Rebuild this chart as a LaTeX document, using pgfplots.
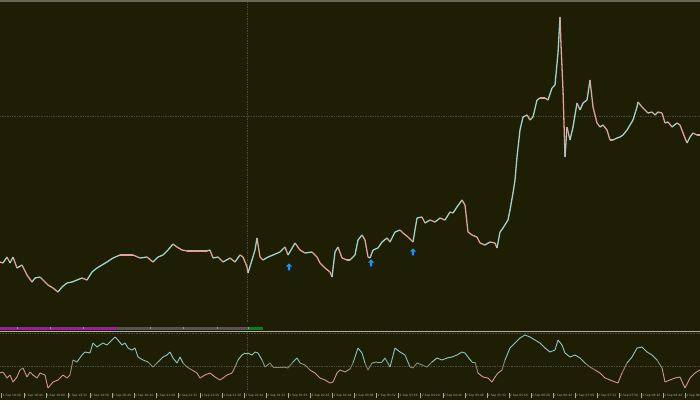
\documentclass[border=0pt]{standalone}
\usepackage{pgfplots}
\pgfplotsset{compat=1.18}
\usepackage{pgfplotstable}
\usepackage{fontspec}
\setmainfont{DejaVu Sans}

\definecolor{bg}{RGB}{30,30,4}
\definecolor{frame}{RGB}{104,104,84}
\definecolor{gridc}{RGB}{74,74,54}
\definecolor{bull}{RGB}{160,210,206}
\definecolor{bear}{RGB}{224,162,154}
\definecolor{oscup}{RGB}{140,198,198}
\definecolor{oscmid}{RGB}{128,128,110}
\definecolor{oscdn}{RGB}{214,150,140}
\definecolor{arrowblue}{RGB}{30,144,255}
\definecolor{stripmag}{RGB}{155,28,155}
\definecolor{stripgray}{RGB}{82,82,82}
\definecolor{stripgreen}{RGB}{16,125,16}
\definecolor{sepline}{RGB}{176,176,160}
\definecolor{lbl}{RGB}{170,170,160}

\newcommand\tk[1]{\rule[-0.8bp]{0.4bp}{4.2bp}\hspace{0.9bp}#1}

\pgfplotsset{
  colormap={pc}{color(0)=(bear) color(1)=(bull)},
  colormap={osc}{color(0)=(oscdn) color(18)=(oscdn) color(24)=(oscmid) color(30)=(oscup) color(58)=(oscup)},
  panel/.style={scale only axis, width=700bp, height=400bp, xmin=0, xmax=700,
    at={(0,0)}, anchor=south west,
    axis line style={draw=none}, xtick=\empty, ytick=\empty, clip=true},
}

\pgfdeclareplotmark{uparr}{%
  \pgfpathmoveto{\pgfpoint{0pt}{3.6pt}}%
  \pgfpathlineto{\pgfpoint{3.1pt}{0.4pt}}%
  \pgfpathlineto{\pgfpoint{1.2pt}{0.4pt}}%
  \pgfpathlineto{\pgfpoint{1.2pt}{-3.4pt}}%
  \pgfpathlineto{\pgfpoint{-1.2pt}{-3.4pt}}%
  \pgfpathlineto{\pgfpoint{-1.2pt}{0.4pt}}%
  \pgfpathlineto{\pgfpoint{-3.1pt}{0.4pt}}%
  \pgfpathclose\pgfusepathqfill}

\pgfplotstableread{
x v c
0 60 0
3 59 1
7 65 0
10 59 1
13 65 0
17 54 1
22 57 0
27 47 0
32 40 1
35 44 1
40 45 0
43 42 0
48 37 0
53 34 0
58 30 1
62 35 1
67 39 1
72 40 1
77 42 1
82 44 0
87 42 1
92 50 1
97 54 1
102 57 1
107 60 1
113 64 1
120 67 0
127 67 0
133 67 0
140 64 1
147 65 0
153 60 1
158 65 1
163 67 1
168 72 1
173 78 0
177 75 0
182 72 0
187 71 0
193 71 0
200 71 0
207 71 1
210 72 0
213 64 1
218 65 0
223 60 1
230 64 0
235 60 1
240 67 0
243 65 0
247 55 0
248 49 1
252 62 1
255 72 1
257 84 0
260 65 0
263 62 1
268 65 1
273 67 1
280 70 1
285 75 0
288 67 1
291 72 1
295 79 0
300 72 0
305 69 1
312 70 0
317 65 0
320 59 0
325 54 0
330 50 0
332 45 1
335 70 1
338 75 0
342 64 0
347 62 0
350 62 1
355 67 1
358 82 1
362 87 0
365 82 0
368 65 0
370 64 1
373 72 1
378 74 1
382 80 1
387 84 0
390 80 1
395 90 1
400 92 0
403 89 0
408 85 0
413 80 1
417 104 1
422 105 0
425 99 1
430 102 0
435 100 1
440 104 0
445 102 1
450 110 0
453 109 1
457 115 1
462 122 0
465 117 0
468 90 0
472 87 0
477 85 0
480 79 0
485 77 1
490 80 0
495 79 0
497 74 1
500 90 1
503 94 1
508 102 1
510 112 1
513 129 1
515 142 1
517 165 1
520 192 1
523 205 1
527 207 0
530 202 1
533 205 1
537 222 1
540 224 0
545 224 0
548 222 1
552 234 1
555 237 1
558 269 1
560 305 0
561 277 0
563 232 0
565 165 1
567 195 0
570 182 1
573 195 1
577 219 0
580 212 1
583 219 1
587 222 1
590 242 0
593 215 0
597 199 0
600 195 1
603 197 0
607 192 0
610 182 0
613 182 1
617 184 1
620 185 1
623 187 1
627 192 1
630 197 1
633 202 1
637 215 1
638 220 0
642 215 0
645 212 0
648 209 1
652 210 0
655 207 1
658 210 0
662 209 0
665 199 1
668 200 0
672 195 1
677 199 0
680 197 0
683 189 0
687 179 1
690 185 1
693 189 0
697 187 0
700 187 0
}\price

\pgfplotstableread{
x o
0 17
3 18
7 12
10 15
13 8
17 13
20 20
23 22
27 13
30 18
33 15
37 12
40 17
45 15
48 2
53 8
58 10
63 15
67 12
70 15
73 30
77 28
82 35
85 38
90 37
93 47
97 43
100 45
103 47
107 45
112 50
115 53
118 50
122 45
125 47
128 42
132 40
135 42
138 33
143 30
148 28
153 23
157 27
160 30
163 33
167 35
170 38
173 32
177 27
180 33
183 27
187 23
192 20
197 17
200 12
205 15
210 17
215 13
220 10
223 12
227 15
232 17
235 23
238 30
242 35
245 37
248 37
252 35
255 38
258 37
262 30
265 23
270 27
273 23
278 23
283 23
288 22
293 28
297 32
300 27
305 25
310 20
315 17
320 12
325 10
330 7
333 8
337 17
340 20
345 18
350 21
353 27
358 42
362 37
365 27
368 20
372 27
377 28
382 28
385 32
390 23
395 42
400 38
405 35
410 23
413 22
417 27
422 25
427 23
432 28
437 32
442 30
447 32
452 33
457 35
462 38
465 37
468 33
472 28
475 28
478 17
483 13
488 12
492 8
495 13
498 17
502 20
505 30
510 42
515 47
520 52
525 55
530 53
535 50
540 47
545 42
550 38
555 40
558 50
562 45
565 37
570 33
575 35
580 32
585 27
590 23
595 20
600 17
605 12
610 10
615 8
618 7
622 17
627 27
632 33
637 42
642 43
647 38
652 35
657 30
662 22
665 8
670 10
675 12
680 13
685 2
690 12
695 17
700 20
}\osc

\begin{document}
\begin{tikzpicture}[x=1bp,y=1bp]
\useasboundingbox (0,0) rectangle (700,400);
\fill[bg] (0,0) rectangle (700,400);
\clip (0,0) rectangle (700,400);

% main price panel (v = height above the panel's bottom edge)
\begin{axis}[panel, ymin=-78, ymax=322]
  \addplot[gridc, densely dotted, line width=0.7bp] coordinates {(0,206) (700,206)};
  \addplot[gridc, densely dotted, line width=0.7bp] coordinates {(247,0) (247,322)};
  \addplot[frame, line width=1.6bp] coordinates {(0,320.9) (700,320.9)};
  \addplot[mesh, shader=flat corner, colormap name=pc, point meta=\thisrow{c},
    point meta min=0, point meta max=1, line width=1.3bp] table[x=x, y=v] {\price};
  \addplot[only marks, mark=uparr, arrowblue, mark options={fill=arrowblue, draw=none}]
    coordinates {(289,55) (371,59) (413,70)};
\end{axis}

% indicator strip
\begin{axis}[panel, ymin=-68, ymax=332]
  \addplot[sepline, line width=1.3bp] coordinates {(0,0.6) (700,0.6)};
  \addplot[stripmag, line width=3bp] coordinates {(0,3.9) (117,3.9)};
  \addplot[stripgray, line width=3bp] coordinates {(117,3.9) (248,3.9)};
  \addplot[stripgreen, line width=3bp] coordinates {(248,3.9) (263,3.9)};
  \addplot[only marks, mark=|, mark size=1.3bp, gray!80, mark options={line width=0.4bp}]
    coordinates {(17,3.9) (50,3.9) (83,3.9) (150,3.9) (183,3.9) (217,3.9) (248,3.9)};
\end{axis}

% oscillator panel + time axis (o = height above the panel's bottom edge)
\begin{axis}[panel, ymin=-10, ymax=390,
  xtick={1.5,23.55,...,686}, xtick pos=left, major tick length=0pt,
  xticklabels={\tk{1 Sep 18:20},\tk{1 Sep 18:44},\tk{1 Sep 19:08},\tk{1 Sep 19:32},\tk{1 Sep 19:56},\tk{1 Sep 20:20},\tk{1 Sep 20:44},\tk{1 Sep 21:08},\tk{1 Sep 21:32},\tk{1 Sep 21:56},\tk{1 Sep 22:20},\tk{1 Sep 22:44},\tk{2 Sep 01:32},\tk{2 Sep 01:56},\tk{2 Sep 02:20},\tk{2 Sep 02:44},\tk{2 Sep 03:08},\tk{2 Sep 03:32},\tk{2 Sep 03:56},\tk{2 Sep 04:20},\tk{2 Sep 04:44},\tk{2 Sep 05:08},\tk{2 Sep 05:32},\tk{2 Sep 05:56},\tk{2 Sep 06:20},\tk{2 Sep 06:44},\tk{2 Sep 07:08},\tk{2 Sep 07:32},\tk{2 Sep 07:56},\tk{2 Sep 08:20},\tk{2 Sep 08:44},\tk{2 Sep 09:08}},
  xticklabel style={anchor=west, xshift=-0.2bp, yshift=4.6bp, inner sep=0pt, text=lbl,
    font=\fontsize{3}{3.5}\selectfont}]
  \addplot[gridc, densely dotted, line width=0.7bp] coordinates {(0,24) (700,24)};
  \addplot[gridc, densely dotted, line width=0.6bp] coordinates {(0,57) (700,57)};
  \addplot[gridc, densely dotted, line width=0.7bp] coordinates {(247,0) (247,58)};
  \addplot[mesh, shader=interp, colormap name=osc, point meta=\thisrow{o},
    point meta min=0, point meta max=58, line width=0.9bp] table[x=x, y=o] {\osc};
\end{axis}
\end{tikzpicture}
\end{document}
